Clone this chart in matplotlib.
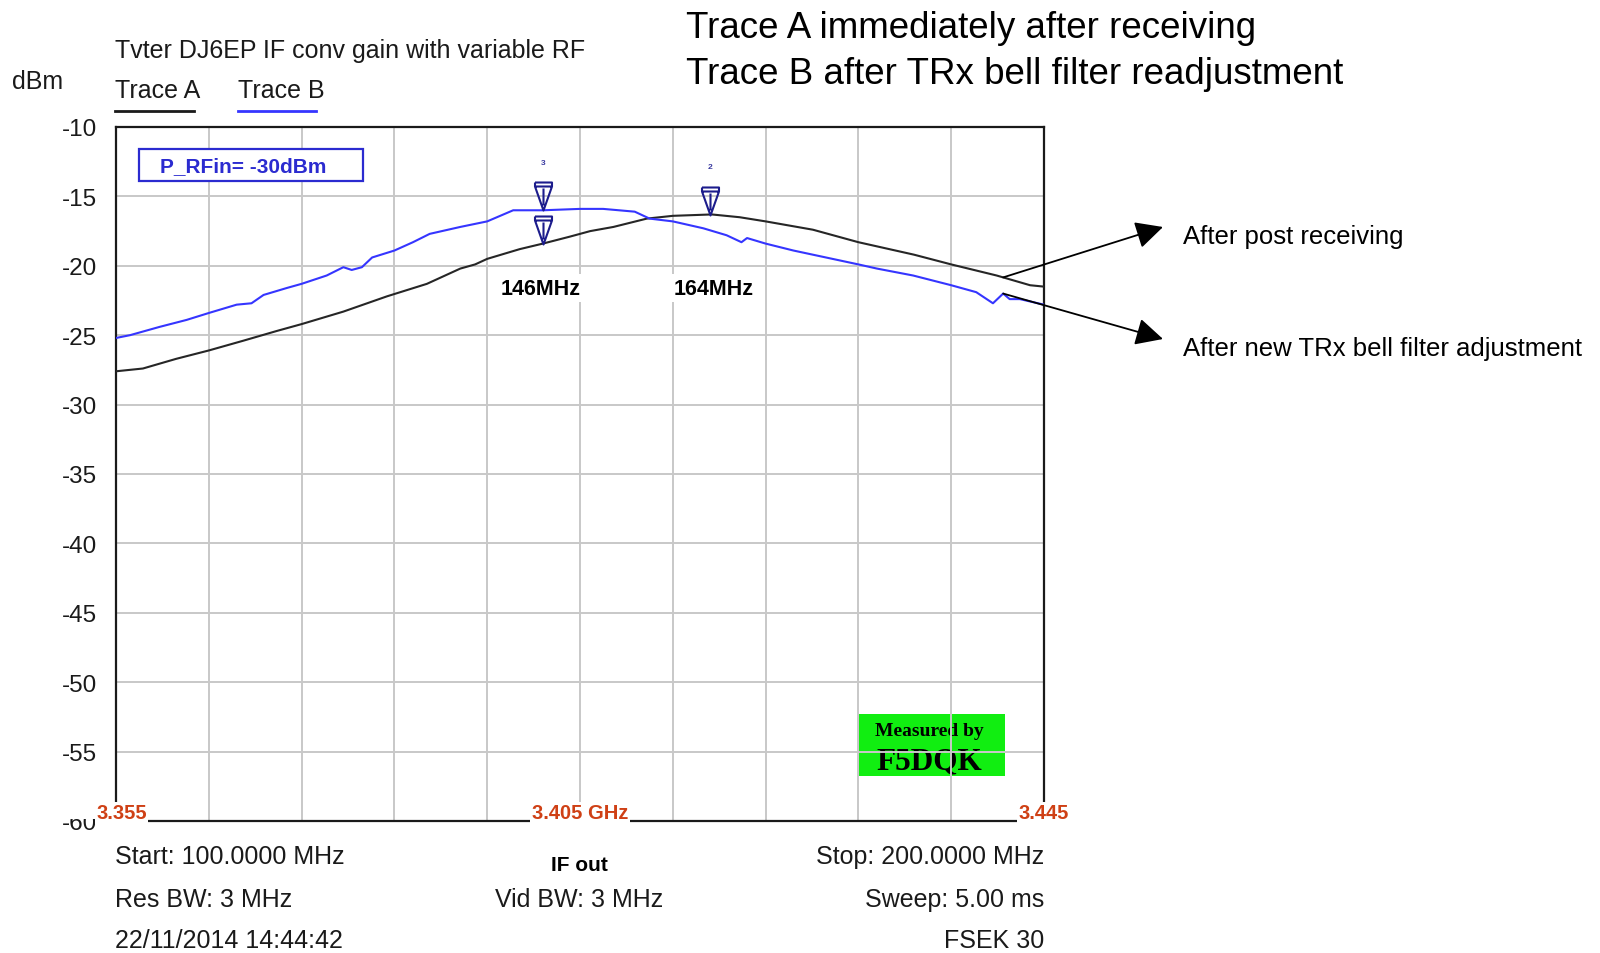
import numpy as np
import matplotlib
matplotlib.use("Agg")
import matplotlib.pyplot as plt
from matplotlib.path import Path
from matplotlib.patches import Rectangle
from matplotlib.lines import Line2D

plt.rcParams["font.family"] = ["Liberation Sans", "DejaVu Sans"]

# --- trace data (MHz, dBm) ---
freq_a = [100, 102.9, 106.5, 110, 113.7, 117.3, 120, 124.5, 129.2, 133.5, 137.1,
          138.7, 140, 143.5, 146, 148.9, 151.1, 153.6, 157.2, 160, 164.2, 167.2,
          170, 175.1, 180, 186, 190, 194.9, 198.5, 200]
level_a = [-27.6, -27.4, -26.7, -26.1, -25.4, -24.7, -24.2, -23.3, -22.2, -21.3,
           -20.2, -19.9, -19.5, -18.8, -18.4, -17.9, -17.5, -17.2, -16.6, -16.4,
           -16.3, -16.5, -16.8, -17.4, -18.3, -19.2, -19.9, -20.7, -21.4, -21.5]

freq_b = [100, 101.5, 104.7, 107.6, 110, 113, 114.6, 115.9, 118.4, 120, 122.7,
          124.5, 125.4, 126.5, 127.6, 130, 132, 133.8, 137.1, 140, 142.8, 146,
          150, 152.5, 155.9, 157.5, 160, 163.3, 165.8, 167.4, 168, 170, 173,
          175.1, 180, 182, 185.9, 190, 192.7, 194.5, 195.6, 196.3, 197.4, 200]
level_b = [-25.2, -25.0, -24.4, -23.9, -23.4, -22.8, -22.7, -22.1, -21.6, -21.3,
           -20.7, -20.1, -20.3, -20.1, -19.4, -18.9, -18.3, -17.7, -17.2, -16.8,
           -16.0, -16.0, -15.9, -15.9, -16.1, -16.6, -16.8, -17.3, -17.8, -18.3,
           -18.0, -18.4, -18.9, -19.2, -19.9, -20.2, -20.7, -21.4, -21.9, -22.7,
           -22.0, -22.4, -22.4, -22.8]

marker_freq_b = [146]
marker_freq_a = [146, 164]
marker_ids = ["3", "2"]
marker_labels = ["146MHz", "164MHz"]
marker_label_freqs = [145.8, 164.4]

y_ticks = np.arange(-60, -9, 5)
x_ticks = np.arange(100, 201, 10)
rf_labels = ["3.355", "3.405 GHz", "3.445"]
rf_label_freqs = [100.6, 150, 200]

arrow_freq = 195.6

W, H = 1600, 954


def fx(x):
    return x / W


def fy(y):
    return 1 - y / H


fig = plt.figure(figsize=(W / 100, H / 100), dpi=100)
ax = fig.add_axes([fx(116), fy(822), (1044 - 116) / W, (822 - 128) / H])

ax.set_xlim(100, 200)
ax.set_ylim(-60, -10)
ax.set_xticks(x_ticks)
ax.set_xticklabels([])
ax.set_yticks(y_ticks)
ax.set_yticklabels([f"{v}" for v in y_ticks], fontsize=17.5, color="#1a1a1a")
ax.tick_params(length=0, pad=13.5)
ax.grid(True, color="#c8c8c8", lw=1.4)
for sp in ax.spines.values():
    sp.set_linewidth(1.6)
    sp.set_color("#1a1a1a")

# traces
ax.plot(freq_a, level_a, color="#262626", lw=1.5, zorder=3)
ax.plot(freq_b, level_b, color="#3535ff", lw=1.5, zorder=3)

# marker symbol: tip at the trace point
mverts = [(-8.5, 28), (8.5, 28), (8.5, 24), (0, 0), (-8.5, 24), (-8.5, 28),
          (-8.5, 24), (8.5, 24), (0, 22), (0, 5)]
mcodes = [Path.MOVETO, Path.LINETO, Path.LINETO, Path.LINETO, Path.LINETO,
          Path.LINETO, Path.MOVETO, Path.LINETO, Path.MOVETO, Path.LINETO]
mpath = Path(mverts, mcodes)
mk = dict(marker=mpath, markersize=2 * 28 * 0.72, markerfacecolor="none",
          markeredgecolor="#1c1c8c", markeredgewidth=1.5, linestyle="none", zorder=4)

mb = np.interp(marker_freq_b, freq_b, level_b)
ma = np.interp(marker_freq_a, freq_a, level_a)
ax.plot(marker_freq_b, mb, **mk)
ax.plot(marker_freq_a, ma, **mk)

top_marks = [(marker_freq_b[0], mb[0]), (marker_freq_a[1], ma[1])]
for (f, lv), mid in zip(top_marks, marker_ids):
    ax.annotate(mid, xy=(f, lv), xytext=(0, 48), textcoords="offset pixels",
                ha="center", va="center", fontsize=6, fontweight="bold",
                color="#3a3aa0")

for f, lab in zip(marker_label_freqs, marker_labels):
    ax.text(f, -21.6, lab, ha="center", va="center", fontsize=15.5,
            fontweight="bold", color="black", zorder=3,
            bbox=dict(boxstyle="square,pad=0.15", facecolor="white", edgecolor="none"))

# RF frequency labels along the bottom
ax.add_patch(Rectangle((fx(50), fy(820)), fx(112) - fx(50), fy(790) - fy(820),
                       transform=fig.transFigure, facecolor="white",
                       edgecolor="none", clip_on=False, zorder=2.9))
for f, lab in zip(rf_label_freqs, rf_labels):
    ax.text(f, -59.4, lab, ha="center", va="center", fontsize=14.5,
            fontweight="bold", color="#cf4015", clip_on=False, zorder=5,
            bbox=dict(boxstyle="square,pad=0.08", facecolor="white", edgecolor="none"))

# measured-by stamp (grid lines run over it)
ax.add_patch(Rectangle((fx(859), fy(777)), fx(1005) - fx(859), fy(715) - fy(777),
                       transform=fig.transFigure, facecolor="#11ee11",
                       edgecolor="none", zorder=0.5))
ax.text(fx(929.5), fy(732), "Measured by", transform=fig.transFigure,
        ha="center", va="center", fontsize=14, fontweight="bold",
        family="Liberation Serif", color="black", zorder=1)
ax.text(fx(929), fy(762), "F5DQK", transform=fig.transFigure,
        ha="center", va="center", fontsize=22.5, fontweight="bold",
        family="Liberation Serif", color="black", zorder=1)

# P_RFin box
fig.add_artist(Rectangle((fx(139), fy(182)), fx(363) - fx(139), fy(150) - fy(182),
                         transform=fig.transFigure, facecolor="white",
                         edgecolor="#2b2bd0", lw=1.6))
fig.text(fx(160), fy(167), "P_RFin= -30dBm", ha="left", va="center",
         fontsize=15, fontweight="bold", color="#2b2bd0")

# header texts
txt = "#1a1a1a"
fig.text(fx(115), fy(51), "Tvter DJ6EP IF conv gain with variable RF",
         ha="left", va="center", fontsize=18, color=txt)
fig.text(fx(12), fy(82), "dBm", ha="left", va="center", fontsize=18, color=txt)
fig.text(fx(115), fy(91), "Trace A", ha="left", va="center", fontsize=18, color=txt)
fig.text(fx(238), fy(91), "Trace B", ha="left", va="center", fontsize=18, color=txt)
fig.add_artist(Line2D([fx(115), fx(194)], [fy(112), fy(112)], color="#1a1a1a", lw=2))
fig.add_artist(Line2D([fx(238), fx(316)], [fy(112), fy(112)], color="#3535ff", lw=2))

fig.text(fx(686), fy(29), "Trace A immediately after receiving",
         ha="left", va="center", fontsize=26.5, color="black")
fig.text(fx(686), fy(74), "Trace B after TRx bell filter readjustment",
         ha="left", va="center", fontsize=26.5, color="black")

# analyzer footer
fig.text(fx(115), fy(857), "Start: 100.0000 MHz", ha="left", va="center", fontsize=18, color=txt)
fig.text(fx(579), fy(866), "IF out", ha="center", va="center", fontsize=15,
         fontweight="bold", color="black")
fig.text(fx(1044), fy(857), "Stop: 200.0000 MHz", ha="right", va="center", fontsize=18, color=txt)
fig.text(fx(115), fy(900), "Res BW: 3 MHz", ha="left", va="center", fontsize=18, color=txt)
fig.text(fx(579), fy(900), "Vid BW: 3 MHz", ha="center", va="center", fontsize=18, color=txt)
fig.text(fx(1044), fy(900), "Sweep: 5.00 ms", ha="right", va="center", fontsize=18, color=txt)
fig.text(fx(115), fy(941), "22/11/2014 14:44:42", ha="left", va="center", fontsize=18, color=txt)
fig.text(fx(1044), fy(941), "FSEK 30", ha="right", va="center", fontsize=18, color=txt)

# annotations with arrows
arrow_kw = dict(arrowstyle="-|>,head_length=0.6,head_width=0.3", mutation_scale=28,
                color="black", lw=1.3, shrinkA=0, shrinkB=0)
ax.annotate("", xy=(fx(1163), fy(228)), xycoords="figure fraction",
            xytext=(arrow_freq, np.interp(arrow_freq, freq_a, level_a)),
            textcoords="data", arrowprops=arrow_kw, annotation_clip=False)
ax.annotate("", xy=(fx(1163), fy(340)), xycoords="figure fraction",
            xytext=(arrow_freq, np.interp(arrow_freq, freq_b, level_b)),
            textcoords="data", arrowprops=arrow_kw, annotation_clip=False)
fig.text(fx(1183), fy(237), "After post receiving", ha="left", va="center",
         fontsize=18.5, color="black")
fig.text(fx(1183), fy(349), "After new TRx bell filter adjustment", ha="left",
         va="center", fontsize=18.5, color="black")

fig.savefig("out.png", dpi=100)
